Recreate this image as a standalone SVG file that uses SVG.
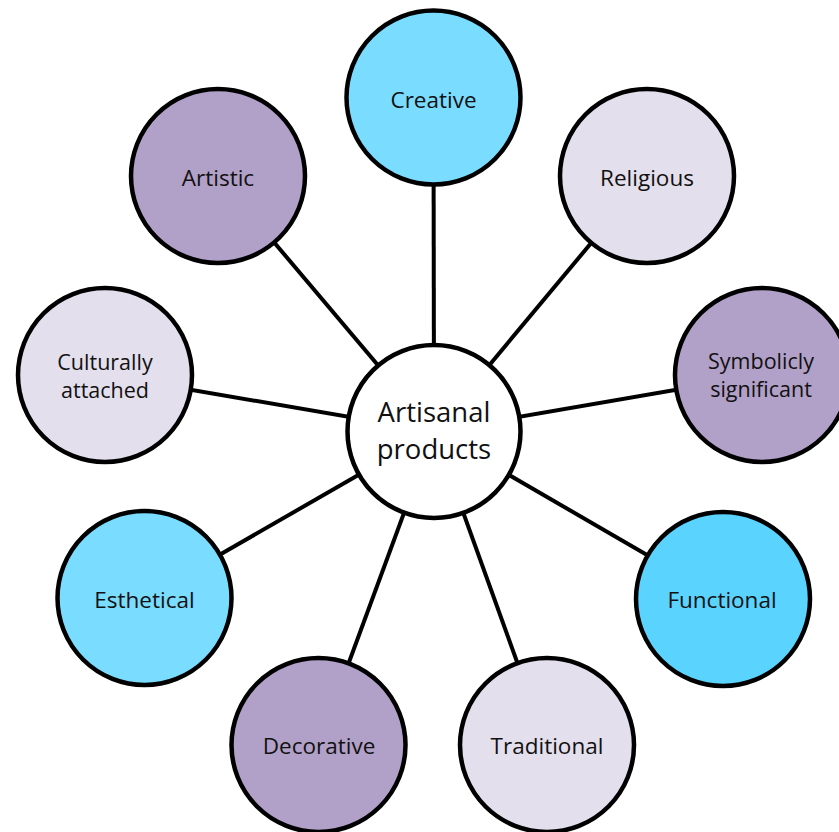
<svg xmlns="http://www.w3.org/2000/svg" width="839" height="832" viewBox="0 0 839 832">
  <style>
    .node { stroke: #000; stroke-width: 4.5; }
    .hub { fill: #ffffff; }
    .blue { fill: #7adcff; }
    .blue2 { fill: #5ad3ff; }
    .purple { fill: #b1a0c7; }
    .lav { fill: #e4dfec; }
    .lbl { font-family: "Open Sans", "Noto Sans", "Liberation Sans", sans-serif; font-size: 22.5px; fill: #111; text-anchor: middle; }
    .two { font-size: 21.5px; }
    .hubtxt { font-size: 27.5px; }
    .links line { stroke: #000; stroke-width: 4; }
  </style>
  <rect width="839" height="832" fill="#ffffff"/>

  <!-- spokes from the hub to each quality -->
  <g id="connectors" class="links">
    <line x1="434" y1="431.5" x2="433.5" y2="97.5"/>
    <line x1="434" y1="431.5" x2="647" y2="176"/>
    <line x1="434" y1="431.5" x2="762" y2="375"/>
    <line x1="434" y1="431.5" x2="723" y2="599"/>
    <line x1="434" y1="431.5" x2="547" y2="745"/>
    <line x1="434" y1="431.5" x2="318.5" y2="745"/>
    <line x1="434" y1="431.5" x2="144.5" y2="598"/>
    <line x1="434" y1="431.5" x2="105" y2="375"/>
    <line x1="434" y1="431.5" x2="218" y2="176"/>
  </g>

  <g id="hub">
    <circle class="node hub" cx="434" cy="431.5" r="86.5"/>
    <text class="lbl hubtxt" x="434" y="422">Artisanal</text>
    <text class="lbl hubtxt" x="434" y="459">products</text>
  </g>

  <g id="creative">
    <circle class="node blue" cx="433.5" cy="97.5" r="87"/>
    <text class="lbl" x="433.5" y="108">Creative</text>
  </g>

  <g id="religious">
    <circle class="node lav" cx="647" cy="176" r="87"/>
    <text class="lbl" x="647" y="186">Religious</text>
  </g>

  <g id="symbolicly-significant">
    <circle class="node purple" cx="762" cy="375" r="87"/>
    <text class="lbl two" x="761" y="369">Symbolicly</text>
    <text class="lbl two" x="761" y="397">significant</text>
  </g>

  <g id="functional">
    <circle class="node blue2" cx="723" cy="599" r="87"/>
    <text class="lbl" x="722" y="608">Functional</text>
  </g>

  <g id="traditional">
    <circle class="node lav" cx="547" cy="745" r="87"/>
    <text class="lbl" x="547" y="754">Traditional</text>
  </g>

  <g id="decorative">
    <circle class="node purple" cx="318.5" cy="745" r="87"/>
    <text class="lbl" x="319" y="754">Decorative</text>
  </g>

  <g id="esthetical">
    <circle class="node blue" cx="144.5" cy="598" r="87"/>
    <text class="lbl" x="144.5" y="608">Esthetical</text>
  </g>

  <g id="culturally-attached">
    <circle class="node lav" cx="105" cy="375" r="87"/>
    <text class="lbl two" x="105" y="370">Culturally</text>
    <text class="lbl two" x="105" y="398">attached</text>
  </g>

  <g id="artistic">
    <circle class="node purple" cx="218" cy="176" r="87"/>
    <text class="lbl" x="218" y="186">Artistic</text>
  </g>
</svg>
